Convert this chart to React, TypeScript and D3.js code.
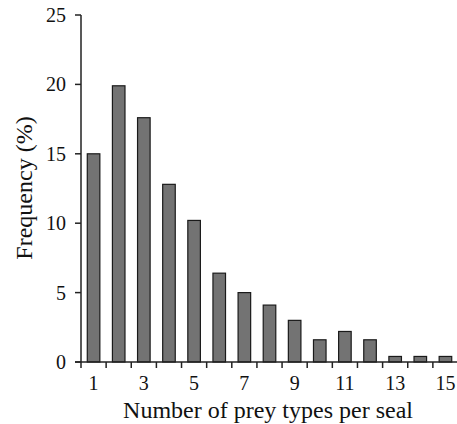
import * as d3 from 'd3';

const categories = ['1', '2', '3', '4', '5', '6', '7', '8', '9', '10', '11', '12', '13', '14', '15'];
const frequency = [15.0, 19.9, 17.6, 12.8, 10.2, 6.4, 5.0, 4.1, 3.0, 1.6, 2.2, 1.6, 0.4, 0.4, 0.4];
const yTicks = [0, 5, 10, 15, 20, 25];
const xLabels = ['1', '3', '5', '7', '9', '11', '13', '15'];

const width = 457;
const height = 424;
const left = 81;
const right = 458;
const top = 15;
const bottom = 362;

export default function App() {
  const x = d3.scaleBand().domain(categories).range([left, right]).paddingInner(0.5).paddingOuter(0.25);
  const y = d3.scaleLinear().domain([0, 25]).range([bottom, top]);
  const step = x.step();
  const edges = d3.range(categories.length + 1).map((i) => left + i * step);

  return (
    <svg
      width={width}
      height={height}
      style={{ position: 'absolute', left: 0, top: 0 }}
      fontFamily="'Liberation Serif', 'Times New Roman', serif"
    >
      <rect width={width} height={height} fill="#fff" />
      {frequency.map((v, i) => (
        <rect
          key={i}
          x={x(categories[i])}
          y={y(v)}
          width={x.bandwidth()}
          height={y(0) - y(v)}
          fill="#737373"
          stroke="#1a1a1a"
          strokeWidth={1.2}
        />
      ))}
      {/* y axis */}
      <line x1={left} x2={left} y1={top} y2={bottom} stroke="#222" strokeWidth={1.5} />
      {yTicks.map((t) => (
        <g key={t}>
          <line x1={left - 6} x2={left} y1={y(t)} y2={y(t)} stroke="#222" strokeWidth={1.5} />
          <text x={left - 15} y={y(t)} dy="0.35em" textAnchor="end" fontSize={20} fill="#111">
            {t}
          </text>
        </g>
      ))}
      {/* x axis */}
      <line x1={left - 6} x2={right} y1={bottom} y2={bottom} stroke="#222" strokeWidth={1.5} />
      {edges.map((e, i) => (
        <line key={i} x1={e} x2={e} y1={bottom} y2={bottom + 6} stroke="#222" strokeWidth={1.5} />
      ))}
      {xLabels.map((l) => (
        <text
          key={l}
          x={(x(l) as number) + x.bandwidth() / 2}
          y={bottom + 28}
          textAnchor="middle"
          fontSize={20}
          fill="#111"
        >
          {l}
        </text>
      ))}
      <text x={268} y={418} textAnchor="middle" fontSize={24} fill="#111">
        Number of prey types per seal
      </text>
      <text
        transform={`translate(32, 188) rotate(-90)`}
        textAnchor="middle"
        fontSize={24}
        fill="#111"
      >
        Frequency (%)
      </text>
    </svg>
  );
}
